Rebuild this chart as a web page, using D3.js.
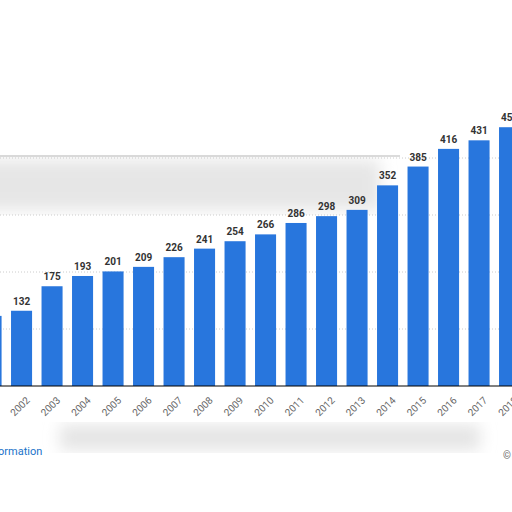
<!DOCTYPE html>
<html><head><meta charset="utf-8">
<script src="https://cdn.jsdelivr.net/npm/d3@7"></script>
<style>body{margin:0;background:#fff}</style></head>
<body><div id="chart"></div>
<script>
const years = ["2001","2002","2003","2004","2005","2006","2007","2008","2009","2010","2011","2012","2013","2014","2015","2016","2017","2018"];
const values = [123,132,175,193,201,209,226,241,254,266,286,298,309,352,385,416,431,454];
const gridTicks = [100,200,300,400];

const W = 512, H = 512;
const svg = d3.select("#chart").append("svg").attr("width", W).attr("height", H);

const defs = svg.append("defs");
defs.append("filter").attr("id", "blur").append("feGaussianBlur").attr("stdDeviation", 8);

// blurred leftovers of the original page
svg.append("rect").attr("x", -20).attr("y", 160).attr("width", 400).attr("height", 50)
    .attr("fill", "#e6e6e6").attr("filter", "url(#blur)");
svg.append("rect").attr("x", 60).attr("y", 425).attr("width", 420).attr("height", 25)
    .attr("fill", "#e4e4e4").attr("filter", "url(#blur)");
svg.append("line").attr("x1", 0).attr("x2", 400).attr("y1", 156).attr("y2", 156)
    .attr("stroke", "#cfcfcf").attr("stroke-width", 1.5);

const x = d3.scaleBand().domain(years).range([-24.2, 524.8]).paddingInner(0.31).paddingOuter(0.155);
const y = d3.scaleLinear().domain([0, 500]).range([386, 101]);

svg.append("g").selectAll("line").data(gridTicks).join("line")
    .attr("x1", 0).attr("x2", W)
    .attr("y1", d => y(d)).attr("y2", d => y(d))
    .attr("stroke", "#cccccc").attr("stroke-dasharray", "1,2");

svg.append("g").selectAll("rect").data(values).join("rect")
    .attr("x", (d, i) => x(years[i]))
    .attr("y", d => y(d))
    .attr("width", x.bandwidth())
    .attr("height", d => y(0) - y(d))
    .attr("fill", "#2876dd");

svg.append("g").selectAll("text").data(values).join("text")
    .attr("x", (d, i) => x(years[i]) + x.bandwidth() / 2)
    .attr("y", d => y(d) - 6)
    .attr("text-anchor", "middle")
    .attr("font-family", "Roboto, sans-serif").attr("font-weight", "bold")
    .attr("font-size", 10).attr("fill", "#333")
    .text(d => d);

svg.append("line").attr("x1", 0).attr("x2", W).attr("y1", y(0)).attr("y2", y(0))
    .attr("stroke", "#000").attr("stroke-width", 1);

svg.append("g").selectAll("text").data(years).join("text")
    .attr("transform", d => `translate(${x(d) + x.bandwidth() / 2 + 4},${y(0) + 10}) rotate(-45)`)
    .attr("text-anchor", "end").attr("dy", "0.7em")
    .attr("font-family", "Roboto, sans-serif").attr("font-size", 10).attr("fill", "#666")
    .text(d => d);

svg.append("text").attr("x", -2).attr("y", 455)
    .attr("font-family", "Roboto, sans-serif").attr("font-size", 11).attr("fill", "#1a73c9")
    .text("ormation");
svg.append("text").attr("x", 503).attr("y", 459)
    .attr("font-family", "Roboto, sans-serif").attr("font-size", 10).attr("fill", "#666")
    .text("©");
</script></body></html>
